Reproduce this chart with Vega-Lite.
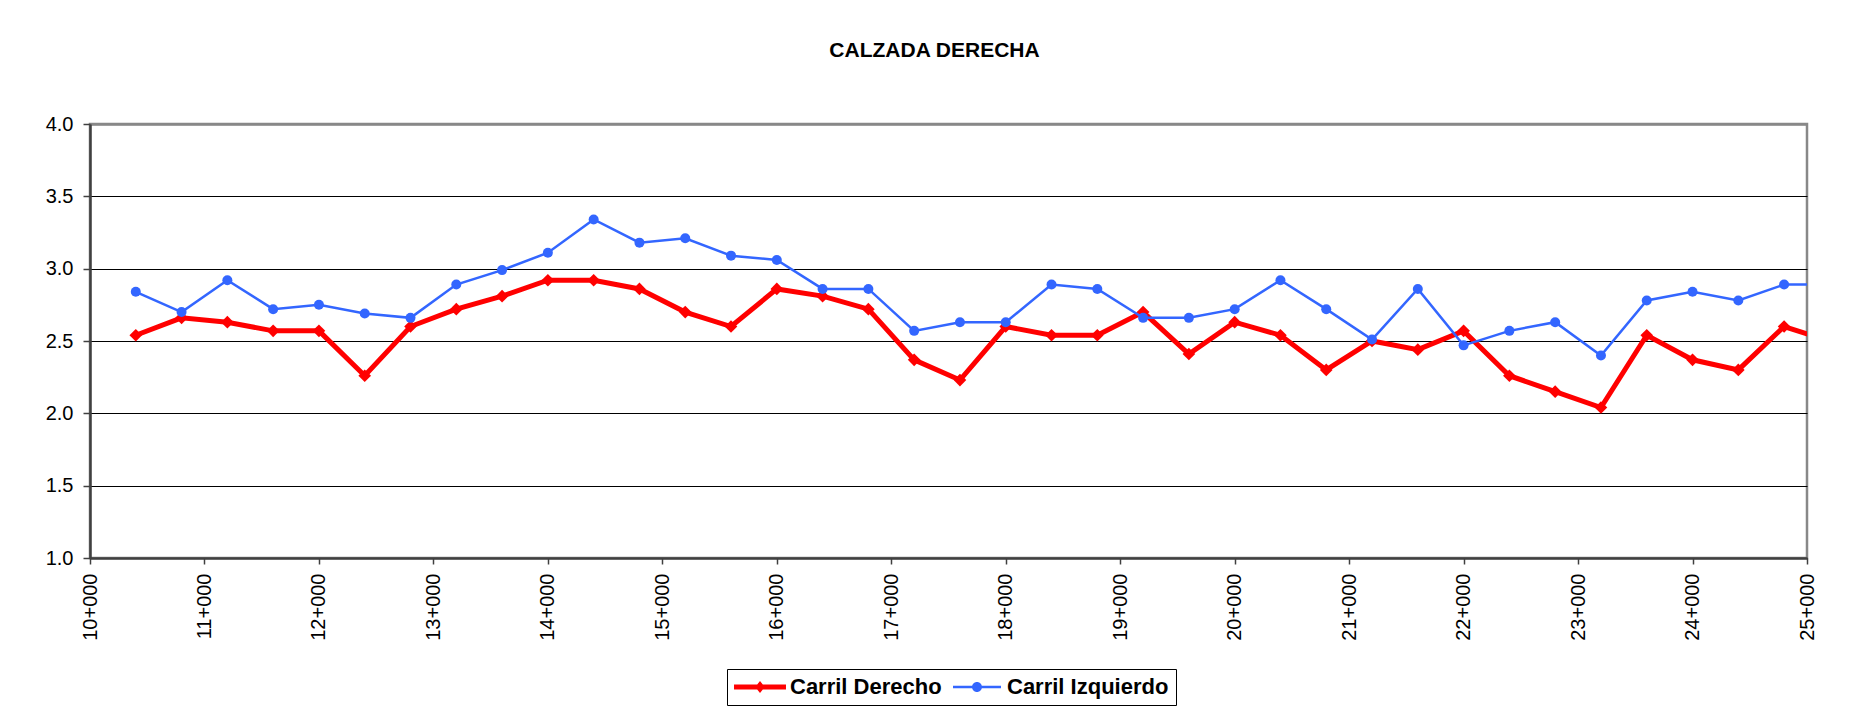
{
  "$schema": "https://vega.github.io/schema/vega-lite/v6.json",
  "width": 1717,
  "height": 434,
  "autosize": {"type": "none"},
  "padding": {"left": 90, "top": 124, "right": 47, "bottom": 162},
  "background": "white",
  "title": {
    "text": "CALZADA DERECHA",
    "font": "Liberation Sans",
    "fontSize": 21,
    "fontWeight": "bold",
    "color": "black",
    "anchor": "middle",
    "dx": -14,
    "baseline": "alphabetic",
    "offset": 36
  },
  "config": {
    "view": {"stroke": "#888888", "strokeWidth": 2.5},
    "axis": {
      "labelFont": "Liberation Sans",
      "labelColor": "black",
      "title": null,
      "domainColor": "#404040",
      "domainWidth": 2.5,
      "tickColor": "#404040",
      "tickWidth": 1.5
    }
  },
  "data": {
    "values": [
      {"km": 10.4, "carril": "Carril Derecho", "v": 2.54}, {"km": 10.4, "carril": "Carril Izquierdo", "v": 2.84},
      {"km": 10.8, "carril": "Carril Derecho", "v": 2.66}, {"km": 10.8, "carril": "Carril Izquierdo", "v": 2.70},
      {"km": 11.2, "carril": "Carril Derecho", "v": 2.63}, {"km": 11.2, "carril": "Carril Izquierdo", "v": 2.92},
      {"km": 11.6, "carril": "Carril Derecho", "v": 2.57}, {"km": 11.6, "carril": "Carril Izquierdo", "v": 2.72},
      {"km": 12.0, "carril": "Carril Derecho", "v": 2.57}, {"km": 12.0, "carril": "Carril Izquierdo", "v": 2.75},
      {"km": 12.4, "carril": "Carril Derecho", "v": 2.26}, {"km": 12.4, "carril": "Carril Izquierdo", "v": 2.69},
      {"km": 12.8, "carril": "Carril Derecho", "v": 2.60}, {"km": 12.8, "carril": "Carril Izquierdo", "v": 2.66},
      {"km": 13.2, "carril": "Carril Derecho", "v": 2.72}, {"km": 13.2, "carril": "Carril Izquierdo", "v": 2.89},
      {"km": 13.6, "carril": "Carril Derecho", "v": 2.81}, {"km": 13.6, "carril": "Carril Izquierdo", "v": 2.99},
      {"km": 14.0, "carril": "Carril Derecho", "v": 2.92}, {"km": 14.0, "carril": "Carril Izquierdo", "v": 3.11},
      {"km": 14.4, "carril": "Carril Derecho", "v": 2.92}, {"km": 14.4, "carril": "Carril Izquierdo", "v": 3.34},
      {"km": 14.8, "carril": "Carril Derecho", "v": 2.86}, {"km": 14.8, "carril": "Carril Izquierdo", "v": 3.18},
      {"km": 15.2, "carril": "Carril Derecho", "v": 2.70}, {"km": 15.2, "carril": "Carril Izquierdo", "v": 3.21},
      {"km": 15.6, "carril": "Carril Derecho", "v": 2.60}, {"km": 15.6, "carril": "Carril Izquierdo", "v": 3.09},
      {"km": 16.0, "carril": "Carril Derecho", "v": 2.86}, {"km": 16.0, "carril": "Carril Izquierdo", "v": 3.06},
      {"km": 16.4, "carril": "Carril Derecho", "v": 2.81}, {"km": 16.4, "carril": "Carril Izquierdo", "v": 2.86},
      {"km": 16.8, "carril": "Carril Derecho", "v": 2.72}, {"km": 16.8, "carril": "Carril Izquierdo", "v": 2.86},
      {"km": 17.2, "carril": "Carril Derecho", "v": 2.37}, {"km": 17.2, "carril": "Carril Izquierdo", "v": 2.57},
      {"km": 17.6, "carril": "Carril Derecho", "v": 2.23}, {"km": 17.6, "carril": "Carril Izquierdo", "v": 2.63},
      {"km": 18.0, "carril": "Carril Derecho", "v": 2.60}, {"km": 18.0, "carril": "Carril Izquierdo", "v": 2.63},
      {"km": 18.4, "carril": "Carril Derecho", "v": 2.54}, {"km": 18.4, "carril": "Carril Izquierdo", "v": 2.89},
      {"km": 18.8, "carril": "Carril Derecho", "v": 2.54}, {"km": 18.8, "carril": "Carril Izquierdo", "v": 2.86},
      {"km": 19.2, "carril": "Carril Derecho", "v": 2.70}, {"km": 19.2, "carril": "Carril Izquierdo", "v": 2.66},
      {"km": 19.6, "carril": "Carril Derecho", "v": 2.41}, {"km": 19.6, "carril": "Carril Izquierdo", "v": 2.66},
      {"km": 20.0, "carril": "Carril Derecho", "v": 2.63}, {"km": 20.0, "carril": "Carril Izquierdo", "v": 2.72},
      {"km": 20.4, "carril": "Carril Derecho", "v": 2.54}, {"km": 20.4, "carril": "Carril Izquierdo", "v": 2.92},
      {"km": 20.8, "carril": "Carril Derecho", "v": 2.30}, {"km": 20.8, "carril": "Carril Izquierdo", "v": 2.72},
      {"km": 21.2, "carril": "Carril Derecho", "v": 2.50}, {"km": 21.2, "carril": "Carril Izquierdo", "v": 2.51},
      {"km": 21.6, "carril": "Carril Derecho", "v": 2.44}, {"km": 21.6, "carril": "Carril Izquierdo", "v": 2.86},
      {"km": 22.0, "carril": "Carril Derecho", "v": 2.57}, {"km": 22.0, "carril": "Carril Izquierdo", "v": 2.47},
      {"km": 22.4, "carril": "Carril Derecho", "v": 2.26}, {"km": 22.4, "carril": "Carril Izquierdo", "v": 2.57},
      {"km": 22.8, "carril": "Carril Derecho", "v": 2.15}, {"km": 22.8, "carril": "Carril Izquierdo", "v": 2.63},
      {"km": 23.2, "carril": "Carril Derecho", "v": 2.04}, {"km": 23.2, "carril": "Carril Izquierdo", "v": 2.40},
      {"km": 23.6, "carril": "Carril Derecho", "v": 2.54}, {"km": 23.6, "carril": "Carril Izquierdo", "v": 2.78},
      {"km": 24.0, "carril": "Carril Derecho", "v": 2.37}, {"km": 24.0, "carril": "Carril Izquierdo", "v": 2.84},
      {"km": 24.4, "carril": "Carril Derecho", "v": 2.30}, {"km": 24.4, "carril": "Carril Izquierdo", "v": 2.78},
      {"km": 24.8, "carril": "Carril Derecho", "v": 2.60}, {"km": 24.8, "carril": "Carril Izquierdo", "v": 2.89},
      {"km": 25.2, "carril": "Carril Derecho", "v": 2.50}, {"km": 25.2, "carril": "Carril Izquierdo", "v": 2.89}
    ]
  },
  "encoding": {
    "x": {
      "field": "km",
      "type": "quantitative",
      "scale": {"domain": [10, 25], "nice": false, "zero": false},
      "axis": {
        "values": [10, 11, 12, 13, 14, 15, 16, 17, 18, 19, 20, 21, 22, 23, 24, 25],
        "labelExpr": "datum.value + '+000'",
        "labelAngle": -90,
        "labelFontSize": 20,
        "tickSize": 6,
        "labelPadding": 9,
        "grid": false,
        "labelFlush": false,
        "labelOverlap": false,
        "labelBound": false
      }
    },
    "y": {
      "field": "v",
      "type": "quantitative",
      "scale": {"domain": [1, 4], "nice": false, "zero": false},
      "axis": {
        "values": [1, 1.5, 2, 2.5, 3, 3.5, 4],
        "format": ".1f",
        "labelFontSize": 20,
        "tickSize": 7,
        "labelPadding": 10,
        "grid": true,
        "gridColor": {"condition": {"test": "datum.value === 4", "value": "#888888"}, "value": "black"},
        "gridWidth": {"condition": {"test": "datum.value === 4", "value": 2.5}, "value": 1},
        "gridOpacity": 1
      }
    },
    "color": {
      "field": "carril",
      "type": "nominal",
      "scale": {"domain": ["Carril Derecho", "Carril Izquierdo"], "range": ["#FF0000", "#3366FF"]},
      "legend": {
        "title": null,
        "orient": "none",
        "legendX": 637,
        "legendY": 545,
        "direction": "horizontal",
        "strokeColor": "black",
        "padding": 7,
        "labelFont": "Liberation Sans",
        "labelFontSize": 22,
        "labelFontWeight": "bold",
        "labelColor": "black",
        "labelLimit": 400,
        "symbolOffset": 15,
        "labelOffset": 19,
        "columnPadding": 9,
        "symbolSize": 144,
        "symbolStrokeWidth": 0,
        "symbolOpacity": 1,
        "symbolType": {"expr": "datum.value === 'Carril Derecho' ? 'M-4.33,-0.42L4.33,-0.42L4.33,0.42L-4.33,0.42Z M0,-1L0.8,0L0,1L-0.8,0Z' : 'M-4,-0.21L4,-0.21L4,0.21L-4,0.21Z M0.83,0A0.83,0.83 0 1,1 -0.83,0A0.83,0.83 0 1,1 0.83,0Z'"}
      }
    }
  },
  "layer": [
    {
      "transform": [{"filter": "datum.carril === 'Carril Derecho'"}],
      "mark": {"type": "line", "strokeWidth": 5, "clip": true}
    },
    {
      "transform": [{"filter": "datum.carril === 'Carril Derecho'"}],
      "mark": {"type": "point", "shape": "diamond", "filled": true, "size": 160, "opacity": 1, "clip": true}
    },
    {
      "transform": [{"filter": "datum.carril === 'Carril Izquierdo'"}],
      "mark": {"type": "line", "strokeWidth": 2.5, "clip": true}
    },
    {
      "transform": [{"filter": "datum.carril === 'Carril Izquierdo'"}],
      "mark": {"type": "point", "shape": "circle", "filled": true, "size": 100, "opacity": 1, "clip": true}
    }
  ]
}
